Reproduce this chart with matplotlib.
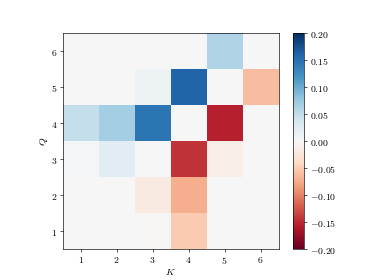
import numpy as np
import matplotlib
matplotlib.use("Agg")
import matplotlib.pyplot as plt

plt.rcParams["font.family"] = "serif"
plt.rcParams["font.serif"] = ["cmr10"]
plt.rcParams["mathtext.fontset"] = "cm"
plt.rcParams["axes.formatter.use_mathtext"] = True
plt.rcParams["font.size"] = 12

# rows: Q = 1..6, columns: K = 1..6
k_labels = [1, 2, 3, 4, 5, 6]
q_labels = [1, 2, 3, 4, 5, 6]
q1 = [0.001, 0.001, -0.003, -0.052, 0.0, 0.0]
q2 = [0.0, 0.0, -0.018, -0.072, 0.001, 0.001]
q3 = [0.002, 0.022, 0.0, -0.144, -0.012, 0.001]
q4 = [0.048, 0.068, 0.146, 0.0, -0.156, 0.0]
q5 = [0.0, 0.0, 0.01, 0.16, 0.0, -0.062]
q6 = [0.001, 0.001, 0.001, 0.0, 0.06, 0.0]

grid = np.array([q1, q2, q3, q4, q5, q6])

fig = plt.figure(figsize=(6.4, 4.8), dpi=374 / 6.4)
ax = fig.add_subplot(111)
im = ax.imshow(grid, cmap="RdBu", vmin=-0.2, vmax=0.2, origin="lower",
               extent=[0.5, 6.5, 0.5, 6.5])
ax.set_xticks(k_labels)
ax.set_yticks(q_labels)
ax.tick_params(pad=3)
ax.set_xlabel("$K$", labelpad=1)
ax.set_ylabel("$Q$", labelpad=1)
fig.colorbar(im, ax=ax)

fig.savefig("out.png", dpi=374 / 6.4)
